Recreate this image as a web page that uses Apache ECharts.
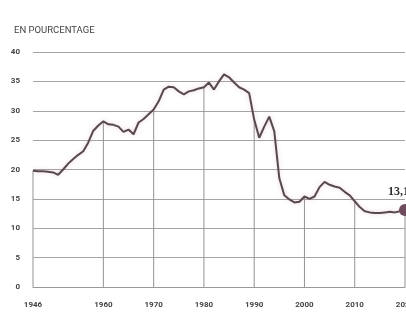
<!DOCTYPE html>
<html>
<head>
<meta charset="utf-8">
<script src="https://cdn.jsdelivr.net/npm/echarts@6/dist/echarts.min.js"></script>
<style>
  html, body { margin: 0; padding: 0; background: #fff; }
  #chart { width: 406px; height: 332px; }
</style>
</head>
<body>
<div id="chart"></div>
<script>
// Years on the horizontal axis (annual points)
const years = [];
for (let y = 1946; y <= 2020; y++) years.push(String(y));

// Share, in percent, one value per year
const shares = [
  19.8, 19.7, 19.7, 19.6, 19.5, 19.1, 20.0, 21.0, 21.8, 22.5,
  23.1, 24.6, 26.6, 27.5, 28.2, 27.7, 27.6, 27.3, 26.4, 26.8,
  26.0, 28.0, 28.6, 29.4, 30.2, 31.6, 33.6, 34.1, 34.0, 33.3,
  32.8, 33.3, 33.5, 33.8, 34.0, 34.8, 33.6, 35.0, 36.2, 35.7,
  34.8, 34.0, 33.6, 33.0, 28.5, 25.4, 27.3, 29.0, 26.5, 18.5,
  15.6, 14.9, 14.4, 14.5, 15.4, 15.0, 15.4, 17.0, 17.9, 17.4,
  17.1, 16.9, 16.2, 15.6, 14.6, 13.6, 12.9, 12.7, 12.6, 12.6,
  12.7, 12.8, 12.7, 12.9, 13.1
];

// Years that get an axis label and a drop line
const markedYears = ['1946', '1960', '1970', '1980', '1990', '2000', '2010', '2020'];

const subtitle = 'EN POURCENTAGE';

const fmt = v => v.toFixed(1).replace('.', ',');
const lastIdx = shares.length - 1;

const lineData = shares.map((v, i) => i === 0
  ? { value: v, label: { show: true, formatter: () => fmt(v) } }
  : v);
const dropData = shares.map((v, i) => markedYears.includes(years[i]) ? v : '-');
const endData = shares.map((v, i) => i === lastIdx ? v : '-');

const chart = echarts.init(document.getElementById('chart'), null, { renderer: 'canvas' });
chart.setOption({
  animation: false,
  backgroundColor: '#ffffff',
  title: {
    text: subtitle,
    left: 9, top: 21,
    textStyle: { fontFamily: 'Roboto', fontSize: 9.5, fontWeight: 'normal', color: '#444' }
  },
  grid: { left: 33, right: 1, top: 52, bottom: 45, containLabel: false, outerBoundsMode: 'none' },
  xAxis: {
    type: 'category',
    data: years,
    boundaryGap: false,
    axisLine: { show: true, lineStyle: { color: '#999', width: 1 } },
    axisTick: { show: false },
    splitLine: { show: false },
    axisLabel: {
      interval: (i, v) => markedYears.includes(v),
      margin: 14,
      fontFamily: 'Roboto', fontSize: 8, fontWeight: 'bold', color: '#444',
      showMinLabel: true, showMaxLabel: true, hideOverlap: false
    }
  },
  yAxis: {
    type: 'value',
    min: 0, max: 40, interval: 5,
    axisLine: { show: false },
    axisTick: { show: false },
    axisLabel: { margin: 13, fontFamily: 'Roboto', fontSize: 8, fontWeight: 'bold', color: '#444' },
    splitLine: { lineStyle: { color: '#a4a4a4', width: 1 } }
  },
  series: [
    {
      type: 'bar',
      data: dropData,
      barWidth: 1,
      itemStyle: { color: '#949494' },
      silent: true,
      z: 1
    },
    {
      type: 'line',
      data: lineData,
      symbol: 'none',
      lineStyle: {
        color: '#564a4f', width: 2,
        shadowColor: 'rgba(200,120,140,0.35)', shadowBlur: 4
      },
      label: {
        position: 'top', align: 'left', offset: [-1, -1],
        fontFamily: 'Liberation Serif', fontWeight: 'bold', fontSize: 10, color: '#3a3a3a'
      },
      z: 3
    },
    {
      type: 'line',
      data: endData,
      symbol: 'circle',
      symbolSize: 12,
      showAllSymbol: true,
      lineStyle: { width: 0 },
      itemStyle: { color: '#6e4c5c' },
      label: {
        show: true,
        position: 'top', align: 'left', distance: 6, offset: [-17, 0],
        formatter: p => fmt(p.value),
        fontFamily: 'Liberation Serif', fontWeight: 'bold', fontSize: 12, color: '#2e2e2e'
      },
      z: 4
    }
  ]
});
</script>
</body>
</html>
